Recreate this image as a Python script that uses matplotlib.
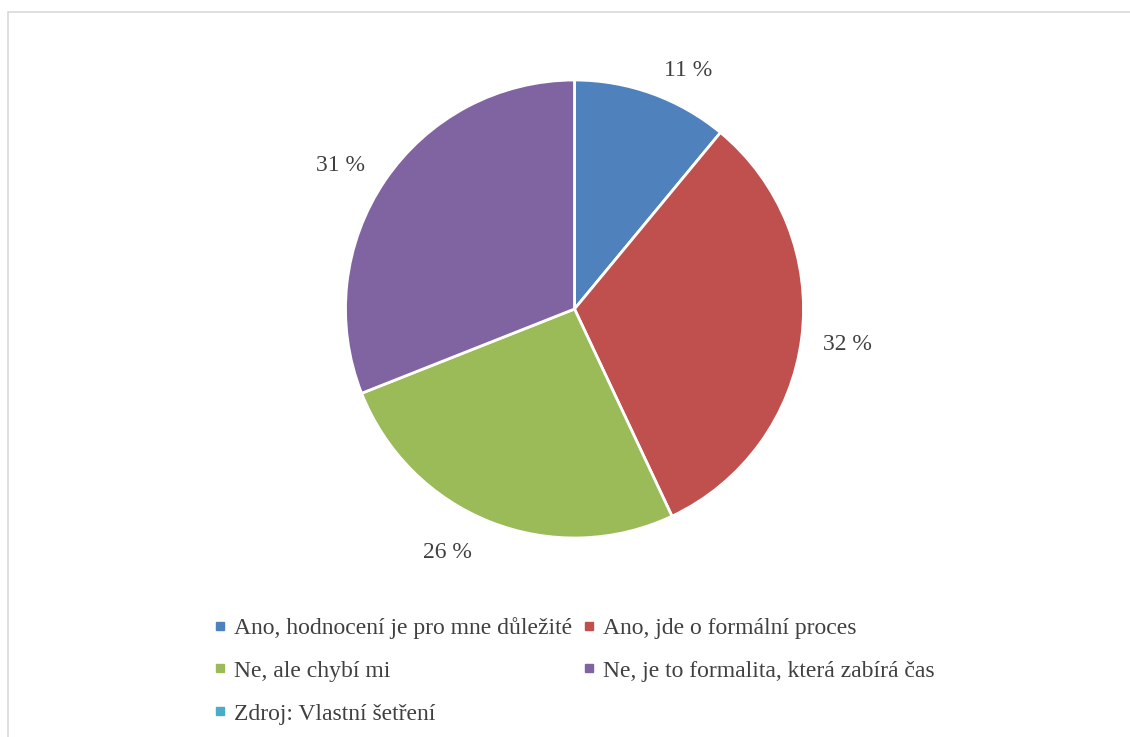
import matplotlib.pyplot as plt
from matplotlib.lines import Line2D
from matplotlib.patches import Rectangle
from matplotlib.transforms import ScaledTranslation

# Survey answers (share of respondents, %)
categories = ["Ano, hodnocení je pro mne důležité",
              "Ano, jde o formální proces",
              "Ne, ale chybí mi",
              "Ne, je to formalita, která zabírá čas",
              "Zdroj: Vlastní šetření"]
shares = [11, 32, 26, 31, 0]
colors = ['#4F81BD', '#C0504D', '#9BBB59', '#8064A2', '#4BACC6']

# nudge of each percentage label from its default spot (pixels)
label_nudge = [(21, -18), (3, -1), (-27, 10), (-9, -10)]

plt.rcParams['font.family'] = 'Liberation Serif'
text_color = '#404040'

fig = plt.figure(figsize=(11.3, 7.37), dpi=100)

# light grey chart frame
fig.patches.append(Rectangle((8 / 1130, -0.05), 1.1, (737 - 12) / 737 + 0.05,
                             transform=fig.transFigure, fill=False,
                             edgecolor='#D9D9D9', linewidth=1.2))

# pie only for the non-zero series
vals = [v for v in shares if v > 0]
cols = [c for v, c in zip(shares, colors) if v > 0]

ax = fig.add_axes([345.5 / 1130, 199 / 737, 458 / 1130, 458 / 737])
wedges, texts = ax.pie(vals, colors=cols, startangle=90, counterclock=False,
                       labels=[f"{v} %" for v in vals], labeldistance=1.19,
                       wedgeprops=dict(edgecolor='white', linewidth=2),
                       textprops=dict(fontsize=17, color=text_color))
for t, (dx, dy) in zip(texts, label_nudge):
    t.set_ha('center')
    t.set_va('center')
    t.set_transform(t.get_transform() + ScaledTranslation(dx / 100, dy / 100, fig.dpi_scale_trans))
ax.set_xlim(-1, 1)
ax.set_ylim(-1, 1)
ax.set_aspect('equal')

# legend in two columns (filled column by column)
handles = [Line2D([], [], marker='s', linestyle='', markersize=6,
                  markerfacecolor=c, markeredgecolor=c) for c in colors]
order = [0, 2, 4, 1, 3]
leg = fig.legend([handles[i] for i in order], [categories[i] for i in order],
                 ncol=2, loc='upper left', bbox_to_anchor=(213 / 1130, 1 - 617 / 737),
                 frameon=False, fontsize=17, handlelength=0.6, handletextpad=0.3,
                 columnspacing=0.4, labelspacing=0.9, borderaxespad=0, borderpad=0)
for t in leg.get_texts():
    t.set_color(text_color)

plt.savefig('out.png', dpi=100)
